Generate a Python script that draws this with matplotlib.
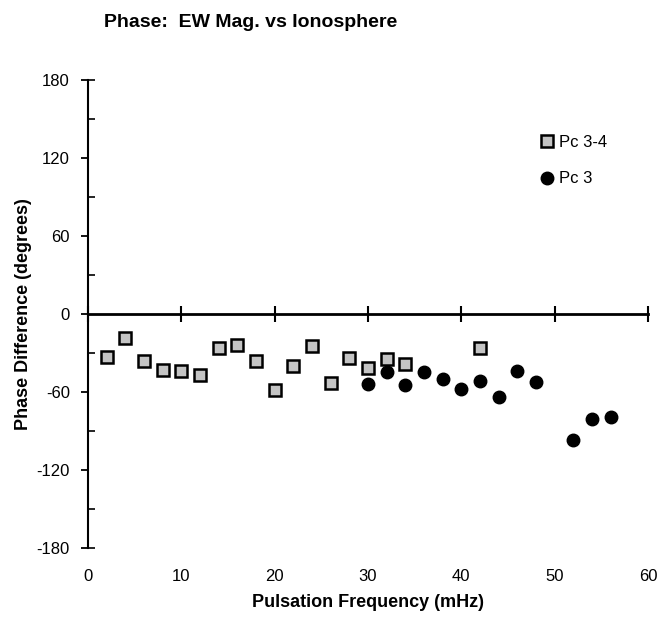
import matplotlib.pyplot as plt
from matplotlib.ticker import MultipleLocator, FixedLocator

plt.rcParams['font.family'] = ['Liberation Sans', 'DejaVu Sans']
plt.rcParams['axes.unicode_minus'] = False

# Pc 3-4 band (squares)
freq_pc34 = [2, 4, 6, 8, 10, 12, 14, 16, 18, 20, 22, 24, 26, 28, 30, 32, 34, 42]
phase_pc34 = [-32.8, -18.2, -36.2, -43.1, -43.8, -46.9, -25.9, -23.8, -35.9,
              -58.5, -40.0, -24.6, -53.3, -33.6, -41.8, -35.0, -38.3, -25.9]

# Pc 3 band (circles)
freq_pc3 = [30, 32, 34, 36, 38, 40, 42, 44, 46, 48, 52, 54, 56]
phase_pc3 = [-53.8, -44.6, -54.9, -44.6, -50.0, -58.0, -51.9, -63.6, -43.9,
             -52.0, -96.9, -80.8, -79.0]

fig = plt.figure(figsize=(6.58, 6.23), dpi=100)
ax = fig.add_axes([0.1337, 0.1204, 0.851, 0.7512])

ax.plot(freq_pc34, phase_pc34, linestyle='none', marker='s', markersize=8,
        markerfacecolor='#c4c4c4', markeredgecolor='black', markeredgewidth=1.8,
        label='Pc 3-4')
ax.plot(freq_pc3, phase_pc3, linestyle='none', marker='o', markersize=9,
        color='black', label='Pc 3')

ax.set_xlim(0, 60)
ax.set_ylim(-180, 180)

# y axis: major ticks outside, minor ticks inside (also at the two ends)
ax.spines['top'].set_visible(False)
ax.spines['right'].set_visible(False)
ax.spines['bottom'].set_visible(False)
ax.spines['left'].set_linewidth(1.5)
ax.yaxis.set_major_locator(MultipleLocator(60))
ax.yaxis.set_minor_locator(FixedLocator([-180, -150, -90, -30, 30, 90, 150, 180]))
ax.yaxis.remove_overlapping_locs = False
ax.tick_params(axis='y', which='major', direction='out', length=5, width=1.3,
               labelsize=12, pad=8)
ax.tick_params(axis='y', which='minor', direction='in', length=5, width=1.2)

# x labels at bottom, ticks on the zero line
ax.xaxis.set_major_locator(MultipleLocator(10))
ax.tick_params(axis='x', which='major', length=0, labelsize=12, pad=15)
zero = ax.secondary_xaxis(0.5)
for sp in zero.spines.values():
    sp.set_linewidth(2)
zero.xaxis.set_major_locator(MultipleLocator(10))
zero.tick_params(axis='x', direction='inout', length=12, width=1.5,
                 labeltop=False, labelbottom=False)

ax.set_xlabel('Pulsation Frequency (mHz)', fontsize=13, fontweight='bold',
              labelpad=7)
ax.set_ylabel('Phase Difference (degrees)', fontsize=13, fontweight='bold',
              labelpad=3)
fig.text(0.158, 0.957, 'Phase:  EW Mag. vs Ionosphere', fontsize=14,
         fontweight='bold', ha='left', va='baseline')

ax.legend(loc='upper left', bbox_to_anchor=(0.775, 0.915), frameon=False,
          fontsize=12, handletextpad=0.1, labelspacing=1.3, handlelength=1.2)

fig.savefig('out.png', dpi=100)
